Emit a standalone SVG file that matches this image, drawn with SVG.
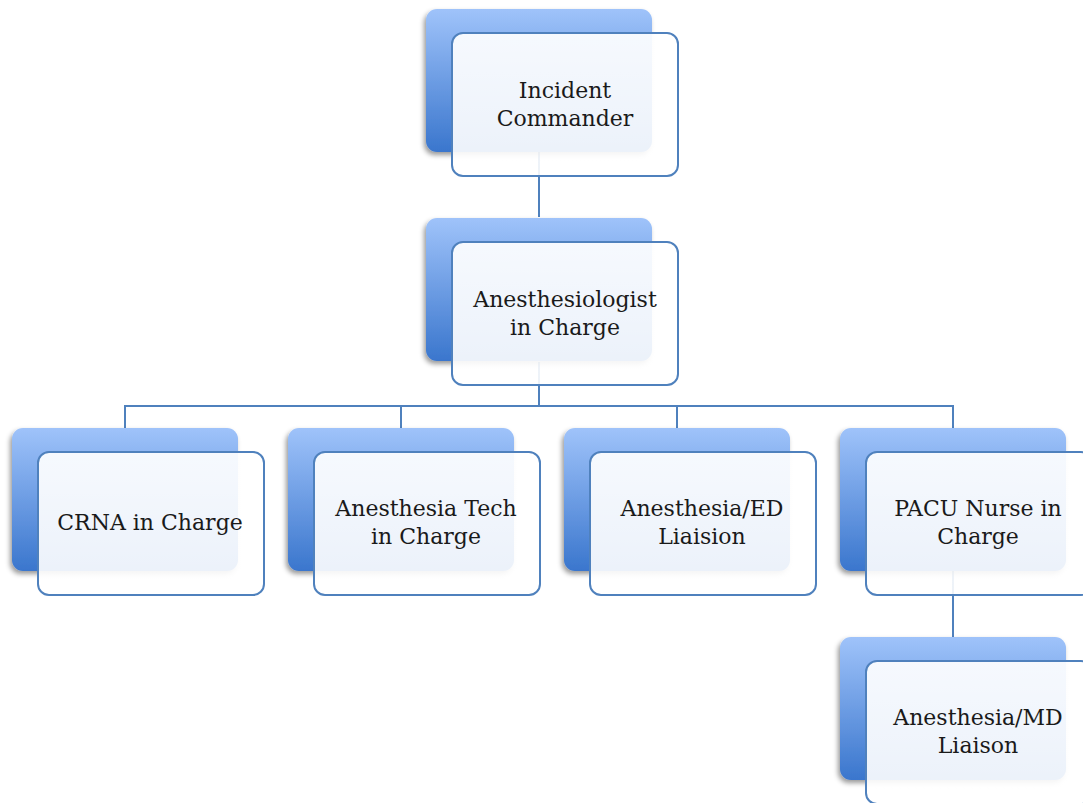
<svg xmlns="http://www.w3.org/2000/svg" width="1083" height="803" viewBox="0 0 1083 803">
<defs>
<linearGradient id="back" x1="0" y1="0" x2="0" y2="1">
<stop offset="0" stop-color="#9fc3fa"/>
<stop offset="1" stop-color="#3a76cd"/>
</linearGradient>
<linearGradient id="front" x1="0" y1="0" x2="0" y2="1">
<stop offset="0" stop-color="#ffffff" stop-opacity="0.92"/>
<stop offset="1" stop-color="#ffffff" stop-opacity="0.9"/>
</linearGradient>
<filter id="sh" x="-10%" y="-10%" width="125%" height="130%">
<feDropShadow dx="-2" dy="3" stdDeviation="2.5" flood-color="#000" flood-opacity="0.4"/>
</filter>
<g id="node">
<rect x="0" y="0" width="226" height="143" rx="11" fill="url(#back)" filter="url(#sh)"/>
<rect x="26" y="24" width="226" height="143" rx="11" fill="url(#front)" stroke="#4f81bd" stroke-width="2"/>
</g>
</defs>
<style>
.c{fill:none;stroke:#4f81bd;stroke-width:2}
.t{font-family:"DejaVu Serif","Liberation Serif",serif;font-size:22px;fill:#1a1a1a;text-anchor:middle}
</style>
<rect width="1083" height="803" fill="#ffffff"/>
<g id="connectors">
<path class="c" d="M539 152V217"/>
<path class="c" d="M539 362V406"/>
<path class="c" d="M125 406H953"/>
<path class="c" d="M125 405V428M401 405V428M677 405V428M953 405V428"/>
<path class="c" d="M953 571V637"/>
</g>
<g id="n-incident">
<use href="#node" x="426" y="9"/>
<text class="t" x="565" y="98">Incident</text>
<text class="t" x="565" y="126">Commander</text>
</g>
<g id="n-anesthesiologist">
<use href="#node" x="426" y="218"/>
<text class="t" x="565" y="307">Anesthesiologist</text>
<text class="t" x="565" y="335">in Charge</text>
</g>
<g id="n-crna">
<use href="#node" x="12" y="428"/>
<text class="t" x="150" y="530">CRNA in Charge</text>
</g>
<g id="n-tech">
<use href="#node" x="288" y="428"/>
<text class="t" x="426" y="516">Anesthesia Tech</text>
<text class="t" x="426" y="544">in Charge</text>
</g>
<g id="n-ed">
<use href="#node" x="564" y="428"/>
<text class="t" x="702" y="516">Anesthesia/ED</text>
<text class="t" x="702" y="544">Liaision</text>
</g>
<g id="n-pacu">
<use href="#node" x="840" y="428"/>
<text class="t" x="978" y="516">PACU Nurse in</text>
<text class="t" x="978" y="544">Charge</text>
</g>
<g id="n-md">
<use href="#node" x="840" y="637"/>
<text class="t" x="978" y="725">Anesthesia/MD</text>
<text class="t" x="978" y="753">Liaison</text>
</g>
</svg>
